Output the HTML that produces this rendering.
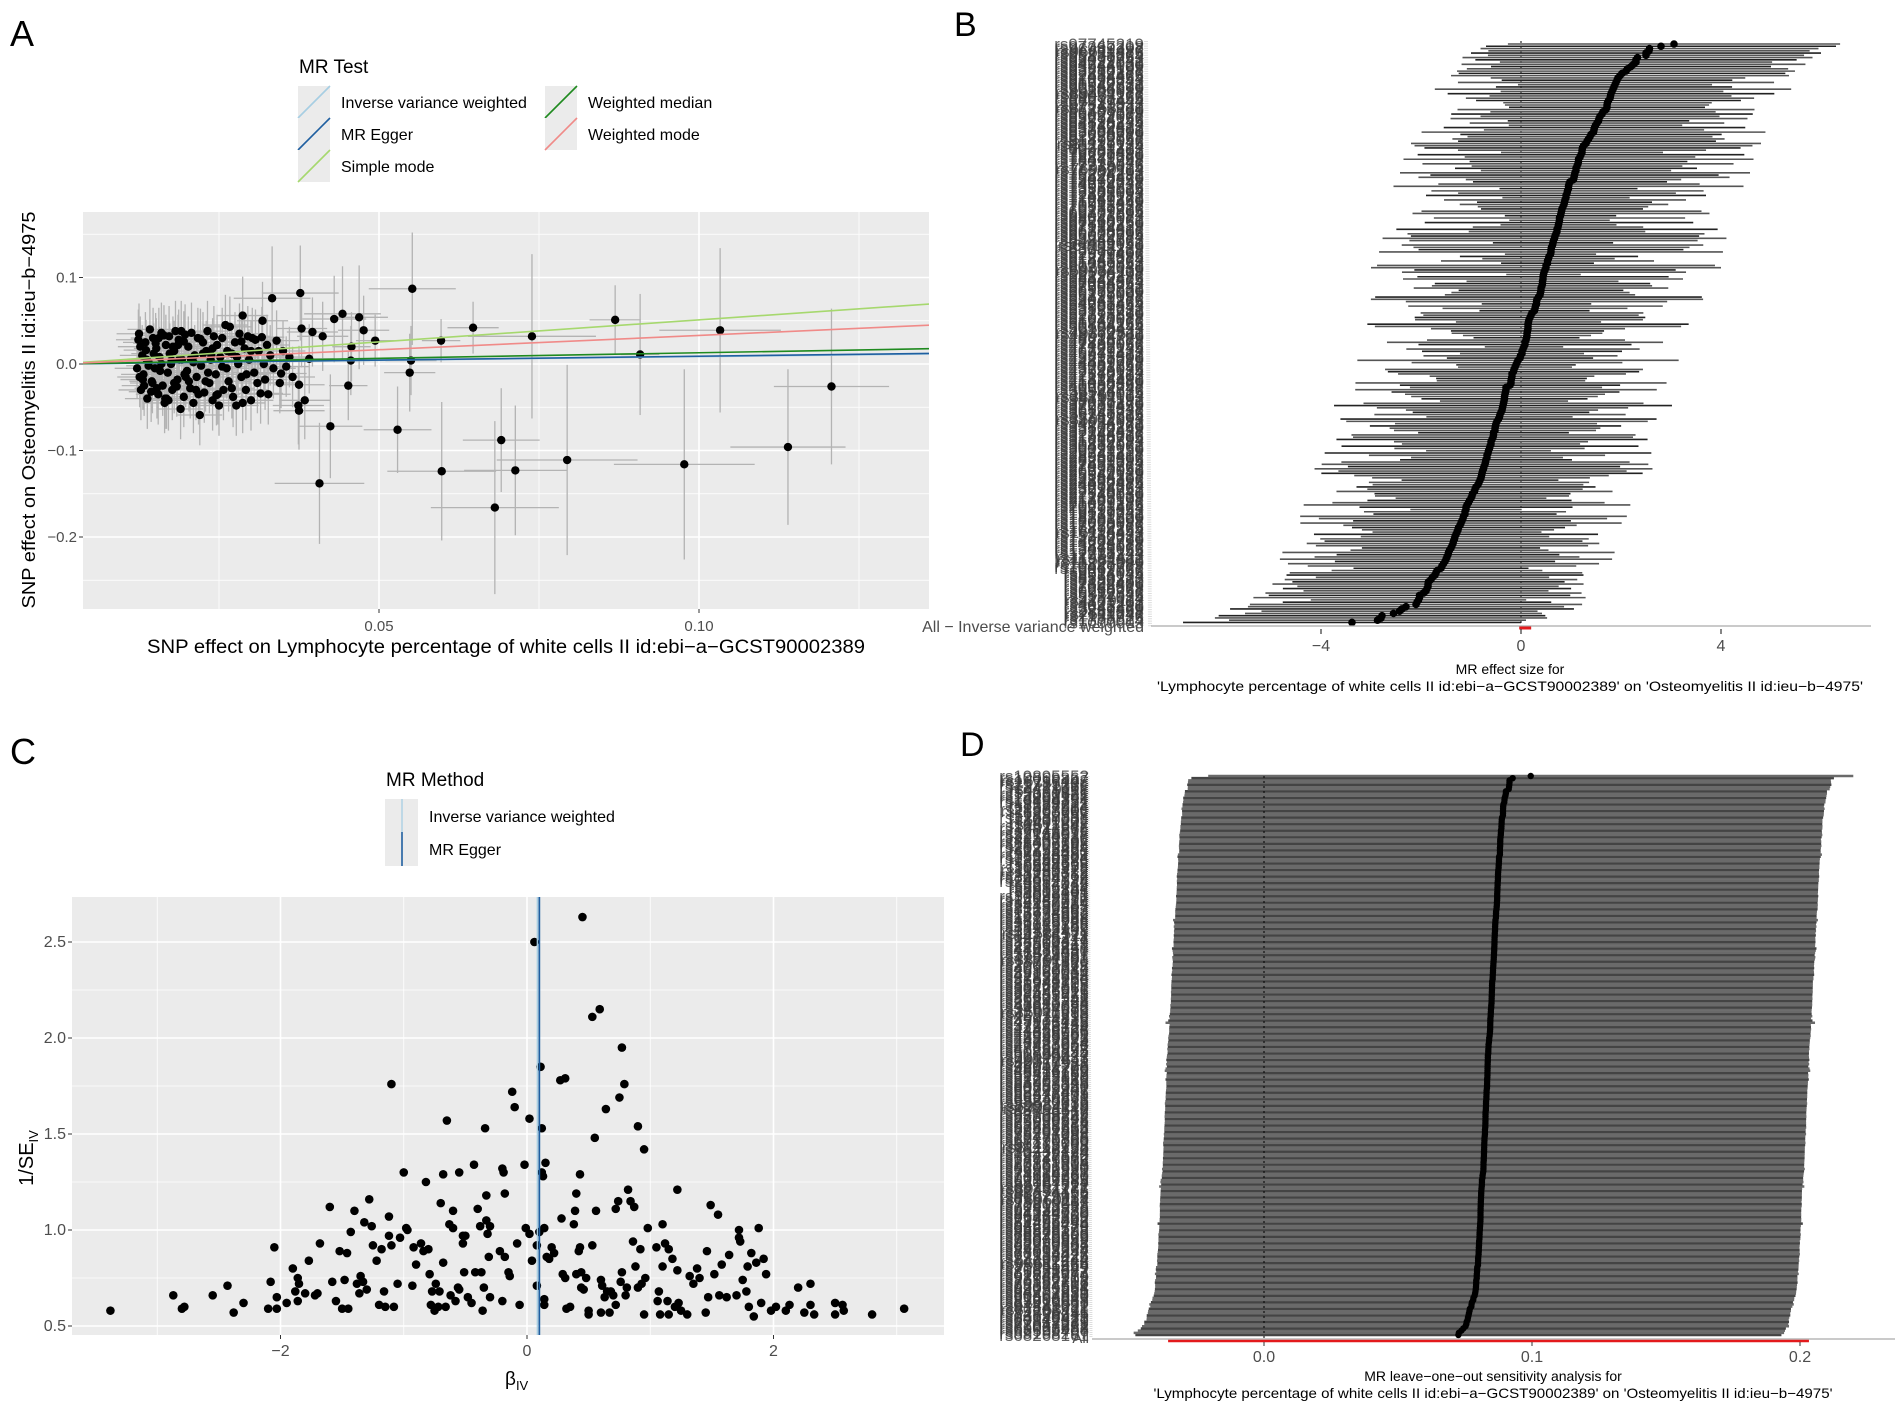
<!DOCTYPE html>
<html><head><meta charset="utf-8"><style>
html,body{margin:0;padding:0;background:#fff;}
svg{display:block;font-family:"Liberation Sans",Arial,sans-serif;}
</style></head><body>
<svg id="fig" width="1902" height="1406" viewBox="0 0 1902 1406" xmlns="http://www.w3.org/2000/svg"></svg>
<script>
// ---------------- DATA ----------------
const betaIV = [-3.38,-2.87,-2.8,-2.78,-2.55,-2.43,-2.38,-2.3,-2.1,-2.08,-2.05,-2.03,-2.03,-1.95,-1.9,-1.88,-1.86,-1.85,-1.86,-1.8,-1.77,-1.72,-1.7,-1.68,-1.6,-1.58,-1.55,-1.52,-1.5,-1.48,-1.46,-1.45,-1.43,-1.4,-1.38,-1.36,-1.35,-1.33,-1.32,-1.3,-1.28,-1.26,-1.25,-1.22,-1.2,-1.18,-1.16,-1.15,-1.12,-1.12,-1.1,-1.1,-1.08,-1.05,-1.03,-1.0,-0.98,-0.97,-0.93,-0.92,-0.9,-0.86,-0.84,-0.82,-0.8,-0.79,-0.78,-0.77,-0.75,-0.74,-0.72,-0.71,-0.7,-0.68,-0.68,-0.66,-0.65,-0.63,-0.62,-0.6,-0.6,-0.58,-0.56,-0.55,-0.55,-0.52,-0.52,-0.51,-0.5,-0.48,-0.45,-0.43,-0.42,-0.4,-0.38,-0.37,-0.36,-0.35,-0.34,-0.33,-0.33,-0.32,-0.31,-0.3,-0.3,-0.22,-0.2,-0.2,-0.19,-0.18,-0.18,-0.15,-0.14,-0.12,-0.1,-0.08,-0.06,-0.02,-0.01,0.02,0.02,0.04,0.06,0.08,0.08,0.1,0.11,0.12,0.12,0.13,0.14,0.14,0.14,0.15,0.16,0.18,0.2,0.22,0.27,0.28,0.29,0.31,0.31,0.32,0.35,0.38,0.39,0.4,0.4,0.42,0.43,0.43,0.44,0.44,0.45,0.46,0.48,0.5,0.5,0.53,0.53,0.55,0.56,0.59,0.6,0.6,0.61,0.63,0.64,0.65,0.67,0.68,0.7,0.72,0.72,0.74,0.75,0.76,0.77,0.77,0.79,0.8,0.81,0.82,0.84,0.86,0.87,0.88,0.9,0.9,0.92,0.93,0.95,0.95,0.96,0.98,1.05,1.06,1.07,1.08,1.1,1.1,1.12,1.14,1.15,1.15,1.18,1.2,1.22,1.22,1.23,1.25,1.3,1.32,1.35,1.38,1.4,1.45,1.46,1.47,1.49,1.52,1.55,1.56,1.58,1.62,1.64,1.7,1.72,1.72,1.73,1.75,1.78,1.79,1.8,1.82,1.84,1.86,1.88,1.9,1.92,1.94,1.98,2.02,2.1,2.13,2.2,2.25,2.3,2.3,2.33,2.5,2.5,2.56,2.57,2.8,3.06];
const invSE = [0.58,0.66,0.59,0.60,0.66,0.71,0.57,0.62,0.59,0.73,0.91,0.59,0.65,0.62,0.80,0.68,0.75,0.72,0.63,0.67,0.84,0.66,0.67,0.93,1.12,0.73,0.63,0.89,0.59,0.74,0.88,0.59,0.99,1.10,0.72,0.67,0.76,0.73,1.04,0.69,1.16,1.02,0.92,0.84,0.61,0.90,0.68,0.60,1.07,0.97,1.76,0.92,0.60,0.72,0.96,1.30,1.01,1.00,0.71,0.91,0.82,0.93,0.89,1.25,0.90,0.77,0.61,0.68,0.58,0.72,0.60,0.68,1.14,1.29,0.83,0.60,1.57,1.03,0.66,1.10,1.01,0.63,0.70,0.69,1.30,0.97,0.93,0.78,0.97,0.65,0.62,1.34,0.78,1.11,1.02,0.78,0.58,0.70,1.53,1.18,1.05,0.98,0.86,0.65,1.02,0.89,0.63,1.32,1.30,1.19,0.86,0.78,0.76,1.72,1.64,0.93,0.61,1.34,1.01,1.58,0.98,0.84,2.50,0.92,0.71,0.99,1.85,1.53,1.30,1.28,1.01,0.64,0.61,1.35,0.86,0.85,0.91,0.88,1.78,1.06,0.77,1.79,0.75,0.59,0.60,1.03,1.10,1.19,0.77,0.89,0.91,1.29,0.70,0.78,2.63,0.69,0.75,0.56,0.58,2.11,0.92,1.48,1.10,2.15,0.57,0.74,0.71,0.65,1.63,0.68,0.57,0.68,0.66,1.11,0.61,1.15,1.69,0.73,1.95,0.78,1.76,0.66,0.70,1.21,1.15,0.94,1.12,0.81,1.54,0.70,0.90,0.72,1.42,0.56,0.75,1.01,0.91,0.63,0.68,0.56,1.03,0.81,0.93,0.63,0.90,0.56,0.85,0.60,1.21,0.79,0.62,0.58,0.56,0.76,0.72,0.80,0.75,0.57,0.89,0.65,1.13,0.77,1.08,0.66,0.82,0.65,0.87,0.66,1.00,0.96,0.94,0.74,0.68,0.81,0.60,0.88,0.55,0.83,1.01,0.62,0.85,0.77,0.58,0.60,0.58,0.61,0.70,0.57,0.72,0.61,0.56,0.62,0.56,0.61,0.58,0.56,0.59];
const ivwSE = 0.061;
const eggerEstimate = 0.1;

const outlierBx = [0.0552,0.0333,0.0377,0.0443,0.0430,0.0469,0.0476,0.0494,0.0597,0.0647,0.0739,0.0869,0.0908,0.1033,0.1207,0.1139,0.0977,0.0794,0.0713,0.0681,0.0691,0.0598,0.0529,0.0548,0.0550,0.0424,0.0407,0.0452,0.0457,0.0456,0.0375,0.0374,0.0384,0.0375,0.0379,0.0318,0.0287,0.0347,0.0391,0.0396,0.0412];
const outlierBy = [0.087,0.076,0.082,0.058,0.052,0.054,0.039,0.027,0.027,0.042,0.032,0.051,0.011,0.039,-0.026,-0.096,-0.116,-0.111,-0.123,-0.166,-0.088,-0.124,-0.076,-0.010,0.004,-0.072,-0.138,-0.025,0.020,0.004,-0.054,-0.048,-0.042,-0.024,0.041,0.050,0.056,-0.011,0.006,0.037,0.032];
const outlierXErr = [0.0068,0.006,0.006,0.006,0.005,0.0045,0.004,0.003,0.003,0.004,0.010,0.004,0.003,0.0095,0.009,0.009,0.011,0.011,0.008,0.010,0.006,0.0085,0.0053,0.004,0.004,0.005,0.007,0.003,0.003,0.003,0.004,0.004,0.004,0.004,0.004,0.004,0.004,0.004,0.004,0.004,0.004];
const outlierYErr = [0.065,0.06,0.055,0.055,0.05,0.06,0.04,0.03,0.025,0.03,0.095,0.04,0.07,0.095,0.09,0.09,0.11,0.11,0.075,0.10,0.06,0.08,0.05,0.045,0.04,0.06,0.07,0.04,0.04,0.04,0.045,0.045,0.045,0.045,0.045,0.045,0.045,0.04,0.04,0.04,0.04];
const clusterBx = [.0125,.0128,.013,.0132,.0135,.0138,.014,.0142,.0145,.0147,.015,.0152,.0155,.0157,.016,.0162,.0165,.0167,.017,.0172,.0175,.0177,.018,.0182,.0185,.0187,.019,.0192,.0195,.0197,.020,.0202,.0205,.0207,.021,.0212,.0215,.0217,.022,.0222,.0225,.0227,.023,.0232,.0235,.0237,.024,.0242,.0245,.0247,.025,.0252,.0255,.0257,.026,.0262,.0265,.0267,.027,.0272,.0275,.0277,.028,.0282,.0285,.0287,.029,.0292,.0295,.0297,.030,.0302,.0305,.0307,.031,.0312,.0315,.0317,.032,.0322,.0325,.0327,.033,.0335,.034,.0345,.035,.0355,.036,.0365,.0122,.0127,.0133,.014,.0148,.0153,.016,.0168,.0173,.018,.0188,.0195,.0203,.021,.0218,.0225,.0233,.024,.0248,.0255,.0263,.027,.0278,.0285,.0293,.030,.0124,.0131,.0137,.0144,.0151,.0158,.0164,.0171,.0178,.0184,.0191,.0198,.0206,.0214,.0221,.0229,.0238,.0246,.0126,.0136,.0146,.0156,.0166,.0176,.0186,.0196];
const clusterBy = [.035,-.030,.010,-.012,.025,-.040,.002,.040,-.020,.030,-.005,.018,-.035,.008,.036,-.025,-.045,.022,-.010,.032,.000,-.030,.015,.038,-.018,.028,-.052,.005,-.038,.034,-.008,.020,-.028,.036,-.045,.010,-.015,.030,-.059,-.002,.025,-.033,.015,.038,-.022,.005,-.042,.032,-.012,.022,-.048,.008,.030,-.030,.045,-.005,-.020,.043,.012,-.038,.025,-.048,.000,.035,-.015,-.045,.018,-.030,.032,.005,-.042,.030,-.010,.028,-.022,.015,-.034,.031,.000,-.018,.022,-.035,.010,-.005,.027,-.022,.015,-.003,.008,-.015,-.005,.020,-.025,-.002,.012,-.028,.000,-.040,.012,-.022,.005,.026,-.020,.002,-.035,.012,-.010,.018,-.035,-.003,.015,-.028,.008,.026,-.012,.015,.028,-.018,.005,-.032,.024,-.008,.033,-.042,.020,-.026,.038,-.015,.006,-.030,.029,-.020,.010,-.036,-.015,.016,-.022,.030,-.040,.004,.022,-.012];
const clusterXErr = 0.0035;
const clusterYErr = 0.035;
const methodNames = ["Inverse variance weighted","MR Egger","Simple mode","Weighted median","Weighted mode"];
const methodSlopes = [0.085,0.090,0.51,0.13,0.33];
const methodIntercepts = [0,0,0,0,0];
const methodColors = ["#a6cee3","#1f5fa0","#a6d86e","#1f8a1f","#f08a88"];
const ticksA_x = [0.05,0.10];
const ticksA_y = [0.1,0.0,-0.1,-0.2];
const ticksB_x = [-4,0,4];
const ticksC_x = [-2,0,2];
const ticksC_y = [0.5,1.0,1.5,2.0,2.5];
const ticksD_x = [0.0,0.1,0.2];

// ---------------- helpers ----------------
const NS = "http://www.w3.org/2000/svg";
const svg = document.getElementById('fig');
function mk(tag, attrs, parent){
  const e = document.createElementNS(NS, tag);
  for (const k in attrs) e.setAttribute(k, attrs[k]);
  (parent||svg).appendChild(e);
  return e;
}
function txt(s, attrs, parent){ const e = mk('text', attrs, parent); e.textContent = s; return e; }
function grp(parent){ return mk('g', {}, parent); }

// =============== PANEL A ===============
const xA = v => 59 + v*6400;
const yA = v => 364 - v*865;
const A = grp();


let t = txt('A',{x:10,y:46,'font-size':36,fill:'#000'},A);


const legA = grp(A);


t = txt('MR Test',{x:299,y:73,'font-size':19,fill:'#000'},legA);


const legPos = [[298,86],[298,118],[298,150],[545,86],[545,118]];
methodNames.forEach((nm,i)=>{
  const [lx,ly] = legPos[i];
  const g = grp(legA);
  
  
  mk('rect',{x:lx,y:ly,width:32,height:32,fill:'#ebebeb'},g);
  mk('line',{x1:lx,y1:ly+32,x2:lx+32,y2:ly,stroke:methodColors[i],'stroke-width':1.6},g);
  txt(nm,{x:lx+43,y:ly+22,'font-size':16,fill:'#000'},g);
});
const pA = {l:83,r:929,t:212,b:609};
let r = mk('rect',{x:pA.l,y:pA.t,width:pA.r-pA.l,height:pA.b-pA.t,fill:'#ebebeb'},A);


[0.025,0.075,0.125].forEach(v=>mk('line',{x1:xA(v),x2:xA(v),y1:pA.t,y2:pA.b,stroke:'#fff','stroke-width':0.8},A));
[0.15,0.05,-0.05,-0.15,-0.25].forEach(v=>mk('line',{x1:pA.l,x2:pA.r,y1:yA(v),y2:yA(v),stroke:'#fff','stroke-width':0.8},A));
ticksA_x.forEach(v=>{
  mk('line',{x1:xA(v),x2:xA(v),y1:pA.t,y2:pA.b,stroke:'#fff','stroke-width':1.6},A);
  mk('line',{x1:xA(v),x2:xA(v),y1:pA.b,y2:pA.b+4,stroke:'#333','stroke-width':1},A);
  const tl = txt(v.toFixed(2),{x:xA(v),y:pA.b+22,'font-size':15,fill:'#4d4d4d','text-anchor':'middle'},A);
  
  
});
ticksA_y.forEach(v=>{
  mk('line',{x1:pA.l,x2:pA.r,y1:yA(v),y2:yA(v),stroke:'#fff','stroke-width':1.6},A);
  mk('line',{x1:pA.l-4,x2:pA.l,y1:yA(v),y2:yA(v),stroke:'#333','stroke-width':1},A);
  const tl = txt(v.toFixed(1).replace('-','\u2212'),{x:pA.l-6,y:yA(v)+5,'font-size':15,fill:'#4d4d4d','text-anchor':'end'},A);
  
  
});
const clipA = mk('clipPath',{id:'clipA'},A);
mk('rect',{x:pA.l,y:pA.t,width:pA.r-pA.l,height:pA.b-pA.t},clipA);
const dataA = mk('g',{'clip-path':'url(#clipA)'},A);
const errA = grp(dataA);


const ptsA = grp(dataA);


function pointA(bx,by,ex,ey){
  mk('line',{x1:xA(bx-ex),x2:xA(bx+ex),y1:yA(by),y2:yA(by),stroke:'#b3b3b3','stroke-width':1.3},errA);
  mk('line',{x1:xA(bx),x2:xA(bx),y1:yA(by-ey),y2:yA(by+ey),stroke:'#b3b3b3','stroke-width':1.3},errA);
  const c = mk('circle',{cx:xA(bx),cy:yA(by),r:4.2,fill:'#000'},ptsA);
  
  
}
clusterBx.forEach((bx,i)=>pointA(bx,clusterBy[i],clusterXErr,clusterYErr));
outlierBx.forEach((bx,i)=>pointA(bx,outlierBy[i],outlierXErr[i],outlierYErr[i]));
methodSlopes.forEach((s,i)=>{
  const x0 = 0, x1 = 0.14;
  const l = mk('line',{x1:xA(x0),y1:yA(methodIntercepts[i]+s*x0),x2:xA(x1),y2:yA(methodIntercepts[i]+s*x1),stroke:methodColors[i],'stroke-width':1.6},dataA);
  
  
});
t = txt('SNP effect on Lymphocyte percentage of white cells II id:ebi\u2212a\u2212GCST90002389',{x:506,y:653,'font-size':19,fill:'#000','text-anchor':'middle',textLength:718,lengthAdjust:'spacingAndGlyphs'},A);


t = txt('SNP effect on Osteomyelitis II id:ieu\u2212b\u22124975',{x:0,y:0,'font-size':18,fill:'#000','text-anchor':'middle',textLength:397,lengthAdjust:'spacingAndGlyphs',transform:'translate(35,410) rotate(-90)'},A);



// ---------- derived ----------
const n = betaIV.length;
const idx = [...Array(n).keys()].sort((a,b)=>betaIV[a]-betaIV[b]);
const w = invSE.map(v=>v*v);
const Wsum = w.reduce((a,b)=>a+b,0);
const Ssum = betaIV.reduce((a,b,i)=>a+b*w[i],0);
const ivwEst = Ssum/Wsum;
const snpIds = [];
for (let i=0;i<n;i++){ snpIds.push('rs' + (1000003 + i*377911)); }

// =============== PANEL B ===============
const xB = v => 1521 + v*50;
const B = grp();


t = txt('B',{x:954,y:36,'font-size':34,fill:'#000'},B);


const pB = {l:1151,r:1871,t:41,b:627};
const rowB = k => pB.b - k*(pB.b-44)/(n+1);
const labB = grp(B);


idx.forEach((j,k)=>{
  txt(snpIds[j],{x:1144,y:rowB(k+2)+6,'font-size':17,fill:'#3a3a3a','text-anchor':'end','fill-opacity':0.8},labB);
});
t = txt('All \u2212 Inverse variance weighted',{x:1144,y:pB.b+5,'font-size':16,fill:'#4d4d4d','text-anchor':'end'},B);


mk('line',{x1:pB.l-5,x2:pB.l-1,y1:pB.t,y2:pB.b,stroke:'#ddd','stroke-width':4,'stroke-dasharray':'1 1.3'},B);
mk('line',{x1:xB(0),x2:xB(0),y1:pB.t,y2:pB.b,stroke:'#000','stroke-width':1,'stroke-dasharray':'2 3'},B);
const barsB = grp(B);


idx.forEach((j,k)=>{
  const se = 1/invSE[j], y = rowB(k+2);
  mk('line',{x1:xB(betaIV[j]-1.96*se),x2:xB(betaIV[j]+1.96*se),y1:y,y2:y,stroke:(k%3==0?'#222':'#555'),'stroke-width':1.6},barsB);
});
idx.forEach((j,k)=>{
  const c = mk('circle',{cx:xB(betaIV[j]),cy:rowB(k+2),r:3.8,fill:'#000'},barsB);
  
  
});
mk('line',{x1:pB.l,x2:pB.r,y1:pB.b-1,y2:pB.b-1,stroke:'#aaa','stroke-width':1.2},B);
let rl = mk('line',{x1:xB(ivwEst-1.96*ivwSE),x2:xB(ivwEst+1.96*ivwSE),y1:pB.b+1,y2:pB.b+1,stroke:'#e31a1c','stroke-width':3},B);


ticksB_x.forEach(v=>{
  mk('line',{x1:xB(v),x2:xB(v),y1:pB.b+2,y2:pB.b+7,stroke:'#333','stroke-width':1.2},B);
  const tl = txt(String(v).replace('-','\u2212'),{x:xB(v),y:pB.b+24,'font-size':16,fill:'#4d4d4d','text-anchor':'middle'},B);
  
  
});
t = txt('MR effect size for',{x:1510,y:674,'font-size':14,fill:'#000','text-anchor':'middle'},B);


t = txt("'Lymphocyte percentage of white cells II id:ebi\u2212a\u2212GCST90002389' on 'Osteomyelitis II id:ieu\u2212b\u22124975'",{x:1510,y:691,'font-size':14,fill:'#000','text-anchor':'middle',textLength:706,lengthAdjust:'spacingAndGlyphs'},B);



// =============== PANEL C ===============
const xC = v => 527 + v*123.25;
const yC = v => 1326 - (v-0.5)*192;
const C = grp();


t = txt('C',{x:10,y:764,'font-size':36,fill:'#000'},C);


const legC = grp(C);


txt('MR Method',{x:386,y:786,'font-size':19,fill:'#000'},legC);
mk('rect',{x:385,y:799,width:33,height:67,fill:'#ebebeb'},legC);
mk('line',{x1:402,x2:402,y1:799,y2:832,stroke:methodColors[0],'stroke-width':1.3},legC);
mk('line',{x1:402,x2:402,y1:832,y2:866,stroke:methodColors[1],'stroke-width':1.6},legC);
txt('Inverse variance weighted',{x:429,y:822,'font-size':16,fill:'#000'},legC);
txt('MR Egger',{x:429,y:855,'font-size':16,fill:'#000'},legC);
const pC = {l:72,r:944,t:897,b:1335};
r = mk('rect',{x:pC.l,y:pC.t,width:pC.r-pC.l,height:pC.b-pC.t,fill:'#ebebeb'},C);


[-3,-1,1,3].forEach(v=>mk('line',{x1:xC(v),x2:xC(v),y1:pC.t,y2:pC.b,stroke:'#fff','stroke-width':0.8},C));
[0.75,1.25,1.75,2.25].forEach(v=>mk('line',{x1:pC.l,x2:pC.r,y1:yC(v),y2:yC(v),stroke:'#fff','stroke-width':0.8},C));
ticksC_x.forEach(v=>{
  mk('line',{x1:xC(v),x2:xC(v),y1:pC.t,y2:pC.b,stroke:'#fff','stroke-width':1.6},C);
  mk('line',{x1:xC(v),x2:xC(v),y1:pC.b,y2:pC.b+4,stroke:'#333','stroke-width':1},C);
  const tl = txt(String(v).replace('-','\u2212'),{x:xC(v),y:pC.b+21,'font-size':16,fill:'#4d4d4d','text-anchor':'middle'},C);
  
  
});
ticksC_y.forEach(v=>{
  mk('line',{x1:pC.l,x2:pC.r,y1:yC(v),y2:yC(v),stroke:'#fff','stroke-width':1.6},C);
  mk('line',{x1:pC.l-4,x2:pC.l,y1:yC(v),y2:yC(v),stroke:'#333','stroke-width':1},C);
  const tl = txt(v.toFixed(1),{x:pC.l-6,y:yC(v)+5,'font-size':16,fill:'#4d4d4d','text-anchor':'end'},C);
  
  
});
betaIV.forEach((b,i)=>{
  const c = mk('circle',{cx:xC(b),cy:yC(invSE[i]),r:4.3,fill:'#000'},C);
  
  
});
let vl = mk('line',{x1:xC(ivwEst),x2:xC(ivwEst),y1:pC.t,y2:pC.b,stroke:methodColors[0],'stroke-width':1.3},C);


vl = mk('line',{x1:xC(eggerEstimate),x2:xC(eggerEstimate),y1:pC.t,y2:pC.b,stroke:methodColors[1],'stroke-width':1.8},C);


t = mk('text',{x:505,y:1385,'font-size':19,fill:'#000'},C);
t.innerHTML = '\u03b2<tspan font-size="13" dy="5">IV</tspan>';


t = mk('text',{x:0,y:0,'font-size':20,fill:'#000','text-anchor':'middle',transform:'translate(33,1158) rotate(-90)'},C);
t.innerHTML = '1/SE<tspan font-size="13" dy="5">IV</tspan>';



// =============== PANEL D ===============
const xD = v => 1264 + v*2680;
const D = grp();


t = txt('D',{x:960,y:756,'font-size':34,fill:'#000'},D);


const loo = [];
for (let i=0;i<n;i++){
  loo.push({id:i, est:(Ssum - betaIV[i]*w[i])/(Wsum - w[i]), se: ivwSE*Math.sqrt(Wsum/(Wsum-w[i]))});
}
loo.sort((a,b)=>a.est-b.est);
const pD = {l:1092,r:1895,t:776,b:1338};
const rowD = k => pD.b - 3 - k*(pD.b-3-pD.t)/(n-1);
const labD = grp(D);


loo.forEach((o,k)=>{
  txt(snpIds[o.id],{x:1089,y:rowD(k)+6,'font-size':17,fill:'#3a3a3a','text-anchor':'end','fill-opacity':0.8},labD);
});
t = txt('All',{x:1089,y:pD.b+5,'font-size':15,fill:'#4d4d4d','text-anchor':'end'},D);


mk('line',{x1:pD.l-4,x2:pD.l-1,y1:pD.t,y2:pD.b,stroke:'#ddd','stroke-width':3,'stroke-dasharray':'1 1'},D);
const barsD = grp(D);


const hD = (pD.b-pD.t)/(n-1);
loo.forEach((o,k)=>{
  mk('line',{x1:xD(o.est-1.96*o.se),x2:xD(o.est+1.96*o.se),y1:rowD(k),y2:rowD(k),stroke:(k%3==0?'#444':'#6a6a6a'),'stroke-width':hD+0.3},barsD);
});
mk('line',{x1:xD(0),x2:xD(0),y1:pD.t,y2:pD.b,stroke:'#000','stroke-width':1,'stroke-dasharray':'2 3'},D);
loo.forEach((o,k)=>{
  const c = mk('circle',{cx:xD(o.est),cy:rowD(k),r:3.2,fill:'#000'},barsD);
  
  
});
mk('line',{x1:pD.l,x2:pD.r,y1:pD.b+1,y2:pD.b+1,stroke:'#aaa','stroke-width':1.2},D);
rl = mk('line',{x1:xD(ivwEst-1.96*ivwSE),x2:xD(ivwEst+1.96*ivwSE),y1:pD.b+3,y2:pD.b+3,stroke:'#e31a1c','stroke-width':2.5},D);


ticksD_x.forEach(v=>{
  mk('line',{x1:xD(v),x2:xD(v),y1:pD.b+4,y2:pD.b+8,stroke:'#333','stroke-width':1},D);
  const tl = txt(v.toFixed(1),{x:xD(v),y:pD.b+24,'font-size':16,fill:'#4d4d4d','text-anchor':'middle'},D);
  
  
});
t = txt('MR leave\u2212one\u2212out sensitivity analysis for',{x:1493,y:1381,'font-size':14,fill:'#000','text-anchor':'middle'},D);


t = txt("'Lymphocyte percentage of white cells II id:ebi\u2212a\u2212GCST90002389' on 'Osteomyelitis II id:ieu\u2212b\u22124975'",{x:1493,y:1398,'font-size':14,fill:'#000','text-anchor':'middle',textLength:679,lengthAdjust:'spacingAndGlyphs'},D);


</script>
</body></html>
